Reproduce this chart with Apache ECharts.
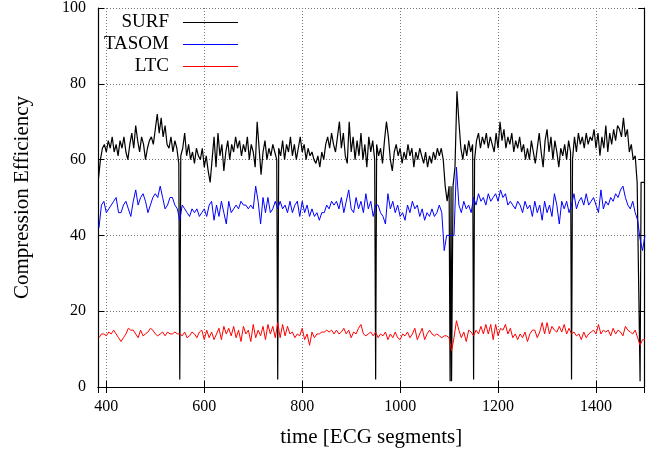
<!DOCTYPE html>
<html>
<head>
<meta charset="utf-8">
<script src="https://cdn.jsdelivr.net/npm/echarts@6/dist/echarts.min.js"></script>
<style>html,body{margin:0;padding:0;background:#fff}#c{width:657px;height:455px}</style>
</head>
<body>
<div id="c"></div>
<script>
// SURF: one value every 4 segments, starting at segment 384 (rows of 10 values = 40 segments)
const surfStart = 384, surfStep = 4;
const surfValues = [
  55,60,63,64,62,65,63,66,62,64,
  61,65,63,66,62,60,64,67,63,69,
  65,62,66,64,60,63,65,66,64,68,
  72,67,71,66,69,64,63,66,62,65,
  63,59,61,63,67,61,64,60,62,59,
  63,61,60,63,58,61,57,54,60,66,
  58,67,61,64,57,62,65,60,64,62,
  66,63,65,61,64,62,66,60,64,62,
  58,70,63,56,62,65,60,63,61,64,
  62,60,63,61,65,60,64,62,66,61,
  64,60,63,66,62,64,60,63,61,62,
  60,59,61,58,62,60,64,66,63,67,
  64,62,66,70,63,67,61,59,70,62,
  66,60,65,61,67,60,64,58,66,62,
  65,60,64,61,63,59,65,70,66,60,
  57,62,64,61,63,59,62,60,64,61,
  63,58,62,60,63,61,59,62,58,61,
  59,62,60,63,61,63,60,53,49,53,
  53,53,58,78,70,63,60,64,61,65,
  62,64,60,65,67,63,66,64,67,63,
  66,64,62,67,63,70,65,68,63,66,
  64,67,62,65,63,66,62,64,60,63,
  60,65,62,59,63,67,62,58,65,68,
  62,66,60,65,62,58,63,61,64,60,
  65,62,60,66,62,67,64,66,63,67,
  64,66,65,68,63,67,61,66,63,69,
  62,67,64,68,65,69,68,66,71,66,
  68,62,64,60,61,54,54,54,54,54
];
// SURF failures: [segment, value]
const surfDrops = [[550,2],[750,2],[950,2],[1102,1.5],[1105,1.5],[1107,1.5],[1150,2],[1350,2],[1490,1.5]];

// TASOM and LTC: one value every 5 segments, starting at 385 (rows of 10 = 50 segments)
const otherStart = 385, otherStep = 5;
const tasomValues = [
  42,48,49,46,47,48,49,50,46,46,
  48,49,47,45,49,52,48,50,51,49,
  46,48,50,51,50,53,50,47,48,50,
  50,48,47,44,48,47,46,45,47,46,
  47,45,46,47,45,48,49,44,48,45,
  49,46,43,49,46,47,48,47,49,48,
  48,47,48,47,53,49,43,50,46,50,
  46,47,49,47,49,47,48,46,49,46,
  48,49,45,49,46,48,45,47,45,46,
  44,46,46,48,47,49,48,49,47,50,
  46,49,52,47,46,50,47,49,46,51,
  47,49,45,48,48,46,45,43,51,47,
  49,46,48,45,46,44,48,46,49,47,
  48,45,47,44,46,45,47,45,46,48,
  46,36,40,40,40,40,58,48,46,49,
  47,48,46,50,48,51,49,50,48,51,
  49,50,51,49,52,50,51,48,49,48,
  47,49,48,46,49,47,48,45,49,46,
  48,44,49,46,48,45,51,48,43,49,
  47,49,46,48,51,47,49,50,48,51,
  48,49,50,48,46,52,47,49,48,50,
  49,51,50,52,53,50,48,47,49,46,
  44,39,36,40
];
const ltcValues = [
  13,14,14,13.5,14.5,14,15,14,13,12,
  13,14,15.5,15,15,14,13,15,13.5,14,
  14.5,15.5,15,14,13.5,14,14.5,13.5,14.5,14,
  14,14.5,14,14,13.5,14.5,13,13.5,14.5,14,
  13,14.5,15,12.5,15,13,14.5,12.5,14,15.5,
  12.5,16,14,15.5,13.5,16,13,15,12,16,
  14,15,12,16.5,13,15,13.5,16,12.5,16.5,
  14,16,13,17,13,16.5,13.5,16,14,14.5,
  13,14,13.5,15.5,12.5,14,11,14.5,13,14,
  14,14.5,14.5,15,14.5,15,14,15,14,14.5,
  15.5,14,15,13,14.5,14,15.5,16.5,14,13.5,
  14,14.5,13.5,14.5,13,14,13.5,14.5,12.5,14,
  13,14.5,13,12.5,14,13.5,14.5,13,14,15.5,
  12.5,14,15.5,12.5,14,15,14,13.5,14,13.5,
  13,13.5,13.5,13,9.5,13,17.5,15,13,14.5,
  12,15,14.5,13.5,15,14,16,14,16.5,14,
  16.5,12.5,16.5,13.5,15.5,15,16.5,14,15.5,13,
  14,12.5,14,13,14.5,12,14,15,15,13,
  14.5,17,14,17,14,16,15,14.5,16,14.5,
  16.5,14,15.5,14,14.5,13.5,14,12.5,14.5,13,
  14,14.5,15,14,16.5,14,15,14.5,15,13.5,
  15.5,14,15,14.5,13.5,16,15,14.5,14,15,
  13,11,12.5,12.5
];
const seriesNames = ['SURF','TASOM','LTC'];
const xTitle = 'time [ECG segments]';
const yTitle = 'Compression Efficiency';

function toPairs(start, step, vals){ return vals.map((v,i)=>[start+i*step, v]); }
const surfData = toPairs(surfStart, surfStep, surfValues).concat(surfDrops).sort((a,b)=>a[0]-b[0]);
const tasomData = toPairs(otherStart, otherStep, tasomValues);
const ltcData = toPairs(otherStart, otherStep, ltcValues);

const FONT = 'Liberation Serif';
const legendIcon = 'path://M0,5 L9,5 M9,4.4 L64,4.4 L64,5.6 L9,5.6 Z';

const chart = echarts.init(document.getElementById('c'), null, {renderer:'canvas'});
chart.setOption({
  animation: false,
  backgroundColor: '#fff',
  textStyle: {fontFamily: FONT, color:'#000'},
  grid: {left: 98, right: 12.5, top: 8, bottom: 68},
  legend: {
    orient: 'vertical', align: 'right', left: 104, top: 13, padding: 0,
    itemGap: 3, itemWidth: 64, itemHeight: 10,
    icon: legendIcon,
    textStyle: {fontFamily: FONT, fontSize: 19, color: '#000'},
    data: seriesNames
  },
  xAxis: [{
    type: 'value', min: 383, max: 1499, position: 'bottom',
    name: xTitle, nameLocation: 'middle', nameGap: 40,
    nameTextStyle: {fontFamily: FONT, fontSize: 21, color:'#000'},
    axisLine: {lineStyle: {color:'#000', width: 1.2}},
    axisTick: {inside: true, length: 6, lineStyle: {color:'#000'}},
    axisLabel: {fontFamily: FONT, fontSize: 16, color:'#000', margin: 12, showMinLabel:false, showMaxLabel:false,
      formatter: v => String(v)},
    splitLine: {show: true, lineStyle: {color:'#777', type: [1,2], width: 1}}
  },{
    type: 'value', min: 383, max: 1499, position: 'top',
    axisLine: {lineStyle: {color:'#000', width: 1.2}},
    axisTick: {inside: true, length: 6, lineStyle: {color:'#000'}},
    axisLabel: {show: false}, splitLine: {show: false}
  }],
  yAxis: [{
    type: 'value', min: 0, max: 100, interval: 20, position: 'left',
    name: yTitle, nameLocation: 'middle', nameGap: 65,
    nameTextStyle: {fontFamily: FONT, fontSize: 21, color:'#000'},
    axisLine: {show: true, lineStyle: {color:'#000', width: 1.2}},
    axisTick: {show: true, inside: true, length: 6, lineStyle: {color:'#000'}},
    axisLabel: {fontFamily: FONT, fontSize: 16, color:'#000', margin: 12},
    splitLine: {show: true, lineStyle: {color:'#777', type: [1,2], width: 1}}
  },{
    type: 'value', min: 0, max: 100, interval: 20, position: 'right',
    axisLine: {show: true, lineStyle: {color:'#000', width: 1.2}},
    axisTick: {show: true, inside: true, length: 6, lineStyle: {color:'#000'}},
    axisLabel: {show: false}, splitLine: {show: false}
  }],
  series: [
    {name: seriesNames[0], type: 'line', data: surfData, showSymbol: false, symbol:'none',
     color:'#000', lineStyle: {color:'#000', width: 1.2}},
    {name: seriesNames[1], type: 'line', data: tasomData, showSymbol: false, symbol:'none',
     color:'#0000ff', lineStyle: {color:'#0000ff', width: 1}},
    {name: seriesNames[2], type: 'line', data: ltcData, showSymbol: false, symbol:'none',
     color:'#ff0000', lineStyle: {color:'#ff0000', width: 1}}
  ]
});
</script>
</body>
</html>
